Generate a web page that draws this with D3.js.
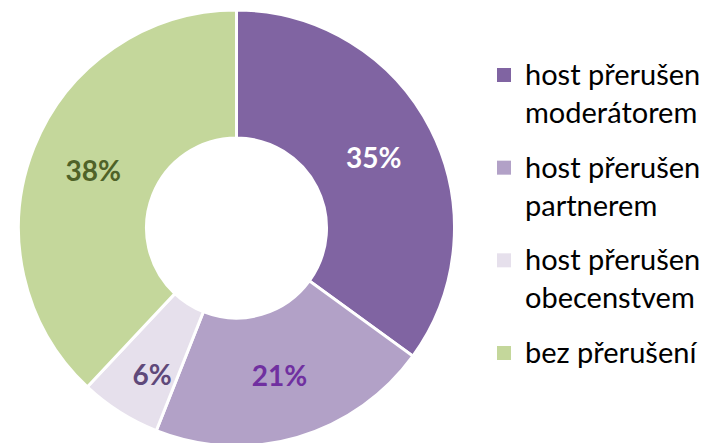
<!DOCTYPE html>
<meta charset="utf-8">
<style>
body { margin: 0; background: #fff; }
text { font-family: Lato, "Noto Sans", sans-serif; }
</style>
<body>
<script src="https://cdn.jsdelivr.net/npm/d3@7"></script>
<script>

var width = 708,
    height = 443;

var categories = ["host přerušen moderátorem", "host přerušen partnerem", "host přerušen obecenstvem", "bez přerušení"];
var legendLines = [["host přerušen", "moderátorem"], ["host přerušen", "partnerem"], ["host přerušen", "obecenstvem"], ["bez přerušení"]];
var values = [35, 21, 6, 38];
var colors = ["#8064A2", "#B2A1C7", "#E6E0EC", "#C4D79B"];
var labelColors = ["#ffffff", "#7030A0", "#5F497A", "#4F6228"];

var cx = 236.5, cy = 228, outerR = 218, innerR = 90;

var svg = d3.select("body").append("svg")
    .attr("width", width)
    .attr("height", height);

var pie = d3.pie().sort(null).value(function(d){ return d; });
var arc = d3.arc().innerRadius(innerR).outerRadius(outerR);
var arcs = pie(values);

var g = svg.append("g").attr("transform", "translate(" + cx + "," + cy + ")");

g.selectAll(".slice")
  .data(arcs)
  .enter()
  .append("path")
  .attr("class", "slice")
  .attr("d", arc)
  .attr("fill", function(d, i){ return colors[i]; })
  .attr("stroke", "#fff")
  .attr("stroke-width", 3)
  .attr("stroke-linejoin", "miter");

g.selectAll(".lbl")
  .data(arcs)
  .enter()
  .append("text")
  .attr("class", "lbl")
  .attr("transform", function(d){
    var c = arc.centroid(d);
    // thin slice label sits a bit lower, like the original
    if (d.value < 10) { c[1] += 17; c[0] -= 2; }
    return "translate(" + c[0] + "," + c[1] + ")";
  })
  .attr("text-anchor", "middle")
  .attr("dy", "0.36em")
  .attr("font-size", 28)
  .attr("font-weight", "bold")
  .attr("fill", function(d, i){ return labelColors[i]; })
  .text(function(d){ return d.value + "%"; });

// legend
var legend = svg.append("g");
var itemY = d3.scalePoint().domain(d3.range(categories.length)).range([85, 363]);

var items = legend.selectAll(".item")
  .data(categories)
  .enter()
  .append("g")
  .attr("class", "item")
  .attr("transform", function(d, i){ return "translate(0," + itemY(i) + ")"; });

items.append("rect")
  .attr("x", 497)
  .attr("y", -17)
  .attr("width", 14)
  .attr("height", 14)
  .attr("fill", function(d, i){ return colors[i]; });

items.each(function(d, i){
  var t = d3.select(this).append("text")
    .attr("x", 525)
    .attr("font-size", 29)
    .attr("fill", "#000");
  legendLines[i].forEach(function(line, j){
    t.append("tspan")
      .attr("x", 525)
      .attr("dy", j === 0 ? 0 : 38)
      .text(line);
  });
});

</script>
